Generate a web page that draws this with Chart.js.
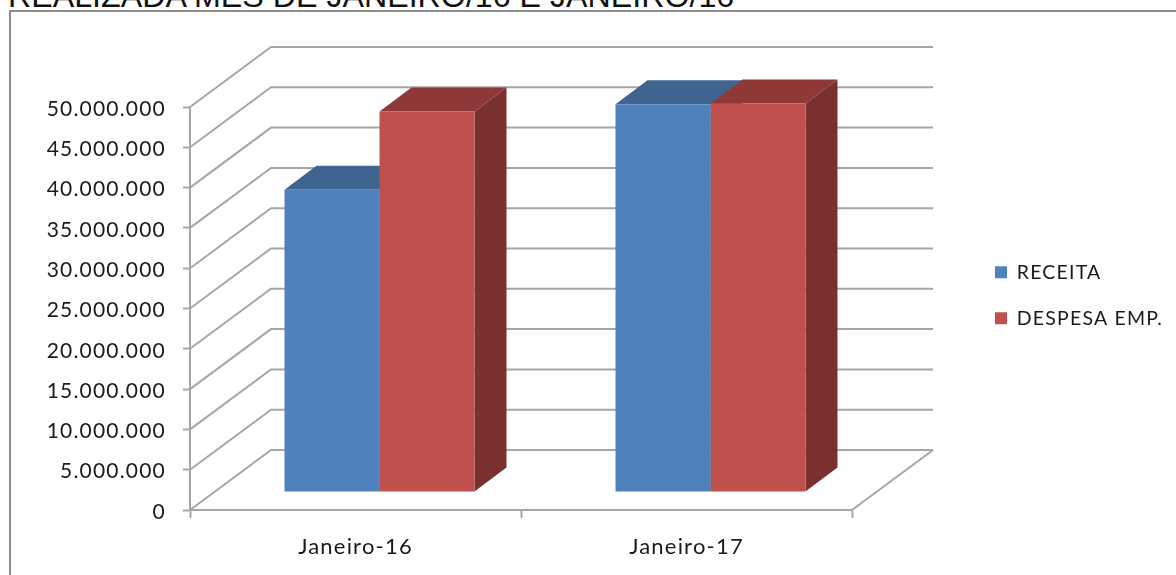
<!DOCTYPE html>
<html>
  <head>
    <title>Receita x Despesa</title>
    <script src="https://cdn.jsdelivr.net/npm/chart.js@4/dist/chart.umd.js"></script>
    <style>
    html, body{
    	margin: 0;
    	padding: 0;
    	background-color: white;
    	overflow: hidden;
    }
    #titulo{
    	position: absolute;
    	left: 8px;
    	top: -22px;
    	font: 32.2px "Liberation Sans", Arial, sans-serif;
    	color: #111;
    	white-space: nowrap;
    }
    #moldura{
    	position: absolute;
    	left: 9px;
    	top: 10px;
    	width: 1200px;
    	height: 600px;
    	border: 2px solid #8c8c8c;
    }
    #grafico{
    	position: absolute;
    	left: 0;
    	top: 0;
    	filter: blur(0.5px);
    }
    </style>
  </head>
  <body>
    <div id="titulo">REALIZADA MES DE JANEIRO/16 E JANEIRO/16</div>
    <div id="moldura"></div>
    <canvas id="grafico" width="1176" height="575"></canvas>

  <script type="text/javascript">

  var categorias = ["Janeiro-16", "Janeiro-17"];
  var receita = [37500000, 48100000];
  var despesa = [47200000, 48200000];

  var corAzul = ['#4f81bd', '#3f6490'];
  var corVermelho = ['#c0504d', '#8e3837', '#7a302f'];
  var corGrade = '#a6a6a6';
  var corTexto = '#1a1a1a';

  // depth of the fake 3d box
  var paredeX = 81, paredeY = 60;   // floor, front to back wall
  var recuoX = 24, recuoY = 18;     // how far the bars sit from the front
  var barraX = 32, barraY = 24;     // depth of one bar

  function milhar(v){
  	return String(v).replace(/\B(?=(\d{3})+$)/g, '.');
  }

  function linha(ctx, pontos){
  	ctx.beginPath();
  	ctx.moveTo(pontos[0][0], pontos[0][1]);
  	for (var i = 1; i < pontos.length; i++) ctx.lineTo(pontos[i][0], pontos[i][1]);
  	ctx.stroke();
  }

  function face(ctx, cor, pontos){
  	ctx.fillStyle = cor;
  	ctx.beginPath();
  	ctx.moveTo(pontos[0][0], pontos[0][1]);
  	for (var i = 1; i < pontos.length; i++) ctx.lineTo(pontos[i][0], pontos[i][1]);
  	ctx.closePath();
  	ctx.fill();
  }

  var caixa3d = {
  	id: 'caixa3d',
  	afterLayout: function(chart){
  		// legend lives in the free space on the right of the plot
  		var leg = chart.legend;
  		leg.left = 968.5; leg.right = 1176;
  		leg.top = 236; leg.bottom = 400;
  	},
  	beforeDraw: function(chart){
  		// the original labels are stretched sideways
  		chart.ctx.letterSpacing = '1.2px';
  	},
  	beforeDatasetsDraw: function(chart){
  		var ctx = chart.ctx, y = chart.scales.y, area = chart.chartArea;

  		// side walls and back wall
  		ctx.save();
  		ctx.strokeStyle = corGrade;
  		ctx.lineWidth = 2;
  		y.ticks.forEach(function(t, i){
  			var py = y.getPixelForTick(i);
  			linha(ctx, [[area.left, py], [area.left + paredeX, py - paredeY], [area.right + paredeX, py - paredeY]]);
  		});
  		linha(ctx, [[area.right, area.bottom], [area.right + paredeX, area.bottom - paredeY]]);

  		// top and side faces go first, the library paints the fronts over them
  		ctx.translate(recuoX, -recuoY);
  		chart.data.datasets.forEach(function(ds, d){
  			chart.getDatasetMeta(d).data.forEach(function(b){
  				var e = b.x - b.width / 2, r = b.x + b.width / 2;
  				face(ctx, ds.corTopo, [[e, b.y], [e + barraX, b.y - barraY], [r + barraX, b.y - barraY], [r, b.y]]);
  				face(ctx, ds.corLado, [[r, b.y], [r + barraX, b.y - barraY], [r + barraX, b.base - barraY], [r, b.base]]);
  			});
  		});
  		ctx.restore();

  		ctx.save();
  		ctx.translate(recuoX, -recuoY);
  	},
  	afterDatasetsDraw: function(chart){
  		chart.ctx.restore();
  	}
  };

  function createChart(){
  	var ctx = document.getElementById("grafico").getContext("2d");

  	new Chart(ctx, {
  		type: 'bar',
  		data: {
  			labels: categorias,
  			datasets: [
  				{label: 'RECEITA', data: receita, backgroundColor: corAzul[0], corTopo: corAzul[1], corLado: corAzul[1]},
  				{label: 'DESPESA EMP.', data: despesa, backgroundColor: corVermelho[0], corTopo: corVermelho[1], corLado: corVermelho[2]}
  			]
  		},
  		plugins: [caixa3d],
  		options: {
  			responsive: false,
  			animation: false,
  			clip: false,
  			categoryPercentage: 0.574,
  			barPercentage: 1,
  			layout: {padding: {top: 107, right: 324, bottom: 0, left: 0}},
  			plugins: {
  				tooltip: {enabled: false},
  				legend: {
  					position: 'chartArea',
  					align: 'start',
  					labels: {
  						boxWidth: 12,
  						boxHeight: 12,
  						padding: 26.5,
  						color: corTexto,
  						font: {family: 'Lato', size: 19.5}
  					}
  				}
  			},
  			scales: {
  				x: {
  					afterFit: function(s){ s.height = 65; },
  					border: {color: corGrade, width: 2},
  					grid: {drawOnChartArea: false, tickLength: 8, tickColor: corGrade, tickWidth: 2},
  					ticks: {color: corTexto, padding: 16, maxRotation: 0, font: {family: 'Lato', size: 22}}
  				},
  				y: {
  					min: 0,
  					max: 50000000,
  					afterFit: function(s){ s.width = 190; },
  					border: {color: corGrade, width: 2},
  					grid: {drawOnChartArea: false, tickLength: 7, tickColor: corGrade, tickWidth: 2},
  					ticks: {
  						stepSize: 5000000,
  						color: corTexto,
  						padding: 17,
  						labelOffset: 2,
  						font: {family: 'Lato', size: 21},
  						callback: function(v){ return milhar(v); }
  					}
  				}
  			}
  		}
  	});
  }

  createChart();

  </script>
  </body>
</html>
